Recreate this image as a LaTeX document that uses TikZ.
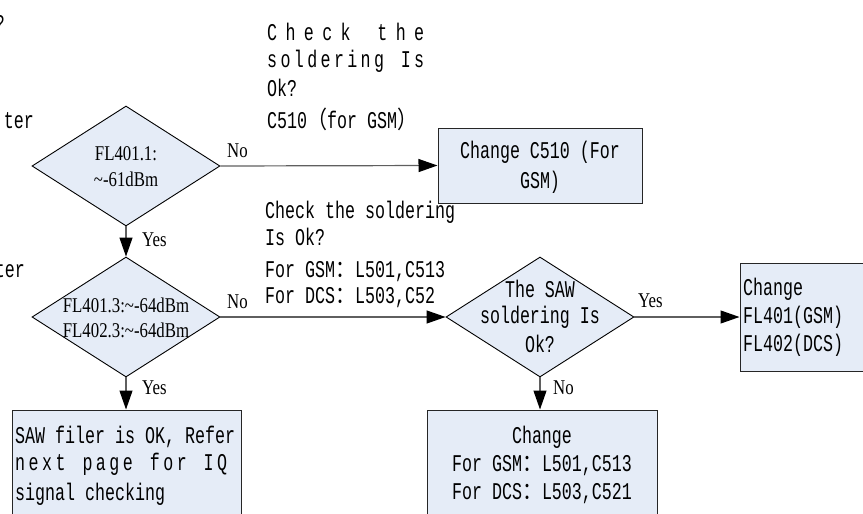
\documentclass[tikz,border=0pt]{standalone}
\usepackage{fontspec}
\usetikzlibrary{shapes.geometric,arrows.meta}
\newfontfamily\monof[FakeStretch=0.694]{Liberation Mono}
\newfontfamily\serf[FakeStretch=0.8]{Liberation Serif}
\newfontfamily\cjkf[FakeStretch=0.833]{Noto Sans CJK SC}
\definecolor{boxfill}{HTML}{E5ECF7}
\definecolor{linegray}{HTML}{5F5F5F}
\newcommand{\spreadto}[2]{\makebox[#1][s]{#2}}
\newcommand{\fw}[1]{{\cjkf #1}}
\begin{document}
\begin{tikzpicture}[x=1pt,y=-1pt,
  mono/.style={font=\monof\fontsize{24}{28}\selectfont, inner sep=0pt, anchor=base west},
  monoc/.style={mono, anchor=base},
  monoe/.style={mono, anchor=base east},
  serfc/.style={font=\serf\fontsize{21}{24}\selectfont, inner sep=0pt, anchor=base},
  lbl/.style={font=\serf\fontsize{21}{24}\selectfont, inner sep=0pt, anchor=base west},
  dia/.style={shape=diamond, draw=black, fill=boxfill, line width=0.9pt, minimum width=188pt, minimum height=120pt, inner sep=0pt},
  box/.style={shape=rectangle, draw=black!85, fill=boxfill, line width=1pt, inner sep=0pt},
  conn/.style={draw=linegray, line width=1.2pt, -{Triangle[length=19pt,width=13pt,color=black]}}
]
\useasboundingbox (0,0) rectangle (863,514);
\clip (0,0) rectangle (863,514);

% shapes
\node[dia] (d1) at (126,166) {};
\node[dia] (d2) at (126,317) {};
\node[dia] (d3) at (540,317) {};
\node[box, minimum width=204pt, minimum height=75pt] (b1) at (540,165.5) {};
\node[box, minimum width=160pt, minimum height=108pt] (b2) at (820,317) {};
\node[box, minimum width=229pt, minimum height=130pt] (b3) at (126.5,475) {};
\node[box, minimum width=230pt, minimum height=130pt] (b4) at (542,475) {};

% connectors
\draw[conn] (d1.east) -- (b1.west);
\draw[conn] (d1.south) -- (d2.north);
\draw[conn] (d2.east) -- (d3.west);
\draw[conn] (d2.south) -- (d2.south |- b3.north);
\draw[conn] (d3.east) -- (b2.west);
\draw[conn] (d3.south) -- (d3.south |- b4.north);

% connector labels
\node[lbl] (l1) at (227,157) {No};
\node[lbl] (l2) at (142,246) {Yes};
\node[lbl] (l3) at (227,308) {No};
\node[lbl] (l4) at (142,394) {Yes};
\node[lbl] (l5) at (638,307) {Yes};
\node[lbl] (l6) at (553,394) {No};

% partial texts at left edge
\node[monoe] (p0) at (5,31) {?};
\node[monoe] (p1) at (34,128) {ter};
\node[monoe] (p2) at (25,277) {ter};

% note 1
\node[mono] (n1a) at (267,40) {\spreadto{157pt}{C\hfil h\hfil e\hfil c\hfil k\hfil\ \hfil t\hfil h\hfil e}};
\node[mono] (n1b) at (267,67) {\spreadto{157pt}{s\hfil o\hfil l\hfil d\hfil e\hfil r\hfil i\hfil n\hfil g\hfil\ \hfil I\hfil s}};
\node[mono] (n1c) at (267,96) {Ok?};
\node[mono] (n1d) at (267,128) {C510\fw{（}for GSM\fw{）}};

% note 2
\node[mono] (n2a) at (265,218) {Check the soldering};
\node[mono] (n2b) at (265,245) {Is Ok?};
\node[mono] (n2c) at (265,277) {For GSM\fw{：}L501,C513};
\node[mono] (n2d) at (265,303) {For DCS\fw{：}L503,C52};

% diamond texts
\node[serfc] (t1a) at (126,160) {FL401.1:};
\node[serfc] (t1b) at (126,186) {\textasciitilde-61dBm};
\node[serfc] (t2a) at (126,312) {FL401.3:\textasciitilde-64dBm};
\node[serfc] (t2b) at (126,337) {FL402.3:\textasciitilde-64dBm};
\node[monoc] (t3a) at (540,297) {The SAW};
\node[monoc] (t3b) at (540,323) {soldering Is};
\node[monoc] (t3c) at (540,352) {Ok?};

% box texts
\node[monoc] (s1a) at (540,158) {Change C510 (For};
\node[monoc] (s1b) at (540,188) {GSM)};
\node[mono] (s2a) at (743,295) {Change};
\node[mono] (s2b) at (743,323) {FL401(GSM)};
\node[mono] (s2c) at (743,351) {FL402(DCS)};
\node[mono] (s3a) at (15,443) {SAW filer is OK, Refer};
\node[mono] (s3b) at (15,470) {\spreadto{212pt}{n\hfil e\hfil x\hfil t\hfil\ \hfil p\hfil a\hfil g\hfil e\hfil\ \hfil f\hfil o\hfil r\hfil\ \hfil I\hfil Q}};
\node[mono] (s3c) at (15,500) {signal checking};
\node[monoc] (s4a) at (542,443) {Change};
\node[monoc] (s4b) at (542,471) {For GSM\fw{：}L501,C513};
\node[monoc] (s4c) at (542,499) {For DCS\fw{：}L503,C521};
\end{tikzpicture}
\end{document}
